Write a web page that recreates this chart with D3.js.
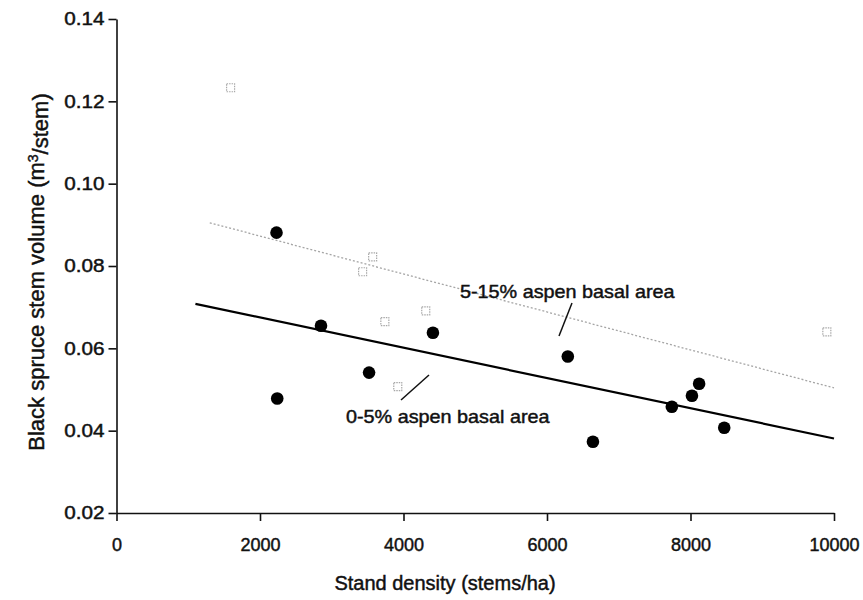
<!DOCTYPE html>
<html>
<head>
<meta charset="utf-8">
<script src="https://cdn.jsdelivr.net/npm/d3@7"></script>
<style>
  body { margin: 0; background: #fff; }
  svg text { font-family: "Liberation Sans", Arial, sans-serif; fill: #111; stroke: #111; stroke-width: 0.45px; }
</style>
</head>
<body>
<div id="chart"></div>
<script>
// 0-5% aspen basal area (black dots)
const lowX = [2230, 2240, 2850, 3520, 4410, 6290, 6640, 7740, 8020, 8120, 8470];
const lowY = [0.0881, 0.0478, 0.0655, 0.0541, 0.0638, 0.0580, 0.0373, 0.0458, 0.0485, 0.0514, 0.0407];

// 5-15% aspen basal area (grey squares)
const highX = [1590, 3430, 3570, 3740, 3920, 4310, 9900];
const highY = [0.1233, 0.0786, 0.0822, 0.0665, 0.0507, 0.0691, 0.0640];

// fitted lines (end points)
const lowFitX = [1100, 10000];
const lowFitY = [0.0708, 0.0381];
const highFitX = [1300, 10000];
const highFitY = [0.0905, 0.0504];

const xTicks = [0, 2000, 4000, 6000, 8000, 10000];
const yTicks = [0.02, 0.04, 0.06, 0.08, 0.10, 0.12, 0.14];

const width = 863, height = 600;

const svg = d3.select("#chart").append("svg")
    .attr("width", width)
    .attr("height", height);

const x = d3.scaleLinear().domain([0, 10000]).range([116.5, 834]);
const y = d3.scaleLinear().domain([0.02, 0.14]).range([513, 19]);

// axes
const xAxis = svg.append("g")
    .attr("transform", `translate(0,${y(0.02)})`)
    .call(d3.axisBottom(x).tickValues(xTicks).tickSize(8).tickSizeOuter(0).tickFormat(d3.format("d")));

const yAxis = svg.append("g")
    .attr("transform", `translate(${x(0)},0)`)
    .call(d3.axisLeft(y).tickValues(yTicks).tickSize(8).tickSizeOuter(0).tickFormat(d3.format(".2f")));

[xAxis, yAxis].forEach(g => {
    g.select(".domain").attr("stroke", "#111").attr("stroke-width", 1.6);
    g.selectAll(".tick line").attr("stroke", "#111").attr("stroke-width", 1.6);
    g.selectAll("text").style("font-size", "18px").attr("fill", "#111");
});

xAxis.selectAll("text").attr("y", 25).attr("dy", "0.71em");
const ySx = 1.15;
yAxis.selectAll("text").attr("x", -12 / ySx).attr("transform", `scale(${ySx},1)`);

// axis titles
svg.append("text")
    .attr("x", 445)
    .attr("y", 590)
    .attr("text-anchor", "middle")
    .style("font-size", "20px")
    .text("Stand density (stems/ha)");

const yTitle = svg.append("text")
    .attr("transform", `translate(44,272) rotate(-90)`)
    .attr("text-anchor", "middle")
    .style("font-size", "22px");
yTitle.append("tspan").text("Black spruce stem volume (m");
yTitle.append("tspan").attr("dy", "-0.45em").style("font-size", "14px").text("3");
yTitle.append("tspan").attr("dy", "0.45em").text("/stem)");

// fitted lines
const line = d3.line().x(d => x(d[0])).y(d => y(d[1]));

svg.append("path")
    .datum(highFitX.map((v, i) => [v, highFitY[i]]))
    .attr("d", line)
    .attr("fill", "none")
    .attr("stroke", "#a5a5a5")
    .attr("stroke-width", 1.3)
    .attr("stroke-dasharray", "2,2");

svg.append("path")
    .datum(lowFitX.map((v, i) => [v, lowFitY[i]]))
    .attr("d", line)
    .attr("fill", "none")
    .attr("stroke", "#000")
    .attr("stroke-width", 2.2);

// grey squares
svg.append("g")
    .selectAll("rect")
    .data(highX.map((v, i) => [v, highY[i]]))
    .enter().append("rect")
    .attr("x", d => x(d[0]) - 4)
    .attr("y", d => y(d[1]) - 4)
    .attr("width", 8)
    .attr("height", 8)
    .attr("fill", "none")
    .attr("stroke", "#a8a8a8")
    .attr("stroke-width", 1.2)
    .attr("stroke-dasharray", "1.5,1");

// black dots
svg.append("g")
    .selectAll("circle")
    .data(lowX.map((v, i) => [v, lowY[i]]))
    .enter().append("circle")
    .attr("cx", d => x(d[0]))
    .attr("cy", d => y(d[1]))
    .attr("r", 6.3)
    .attr("fill", "#000");

// annotations
const annSx = 1.1;
svg.append("text")
    .attr("transform", `translate(460,298) scale(${annSx},1)`)
    .style("font-size", "18px")
    .text("5-15% aspen basal area");
svg.append("line")
    .attr("x1", 559).attr("y1", 336).attr("x2", 572).attr("y2", 303)
    .attr("stroke", "#111").attr("stroke-width", 1.5);

svg.append("text")
    .attr("transform", `translate(346,423) scale(${annSx},1)`)
    .style("font-size", "18px")
    .text("0-5% aspen basal area");
svg.append("line")
    .attr("x1", 401).attr("y1", 400).attr("x2", 429).attr("y2", 375)
    .attr("stroke", "#111").attr("stroke-width", 1.5);
</script>
</body>
</html>
